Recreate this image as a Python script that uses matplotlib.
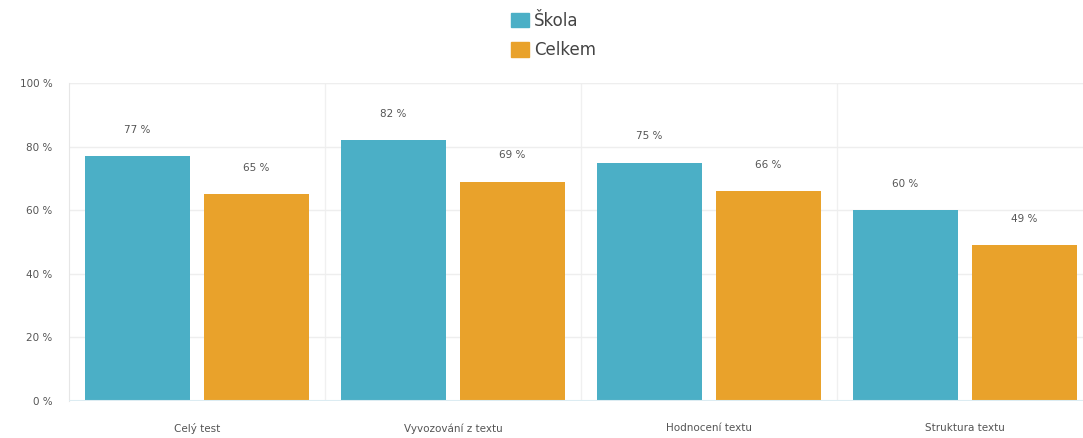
import numpy as np
import matplotlib

matplotlib.use('Agg')

import matplotlib.pyplot as plt
from matplotlib.patches import Patch

categories = ['Celý test', 'Vyvozování z textu', 'Hodnocení textu', 'Struktura textu']
skola = [77, 82, 75, 60]
celkem = [65, 69, 66, 49]
yticks = [0, 20, 40, 60, 80, 100]

c_skola = '#4bafc6'
c_celkem = '#e9a22b'
txt = '#555555'

fig = plt.figure(figsize=(10.83, 4.38), dpi=100)
# axes box in pixels: left 69, right ~1093 (cut off by image), bottom 401, top 83
ax = fig.add_axes([69 / 1083, (438 - 401) / 438, (1093 - 69) / 1083, (401 - 83) / 438])

x = np.arange(len(categories))
w = 0.41
b1 = ax.bar(x - 0.232, skola, w, color=c_skola, zorder=3)
b2 = ax.bar(x + 0.232, celkem, w, color=c_celkem, zorder=3)

for bars, vals in ((b1, skola), (b2, celkem)):
    for r, v in zip(bars, vals):
        ax.annotate('%d %%' % v, (r.get_x() + r.get_width() / 2, v),
                    xytext=(0, 19), textcoords='offset points',
                    ha='center', va='center', fontsize=7.5, color=txt)

ax.set_xlim(-0.5, 3.5)
ax.set_ylim(0, 100)
ax.set_yticks(yticks)
ax.set_yticklabels(['%d %%' % t for t in yticks])
ax.set_xticks(x)
ax.set_xticklabels(categories)
ax.tick_params(axis='both', length=0, labelsize=7.5, colors=txt)
ax.tick_params(axis='x', pad=16)
ax.tick_params(axis='y', pad=12)

ax.grid(axis='y', color='#eeeeee', linewidth=1, zorder=0)
for s in (0.5, 1.5, 2.5):
    ax.axvline(s, color='#f0f0f0', linewidth=1, zorder=0)
for sp in ('top', 'right', 'bottom'):
    ax.spines[sp].set_visible(False)
ax.spines['left'].set_color('#e6e6e6')
ax.axhline(100, color='#e6e6e6', linewidth=1.5, zorder=1)
ax.axhline(0, color='#dcecf2', linewidth=1.5, zorder=4)

handles = [Patch(color=c_skola, label='Škola'), Patch(color=c_celkem, label='Celkem')]
leg = fig.legend(handles=handles, loc='upper center', bbox_to_anchor=(0.511, 1.0),
                 frameon=False, fontsize=12, handlelength=1.1, handleheight=1.0,
                 handletextpad=0.3, labelspacing=0.7, borderaxespad=0.3)
for t in leg.get_texts():
    t.set_color('#444444')

fig.savefig('out.png', dpi=100)
